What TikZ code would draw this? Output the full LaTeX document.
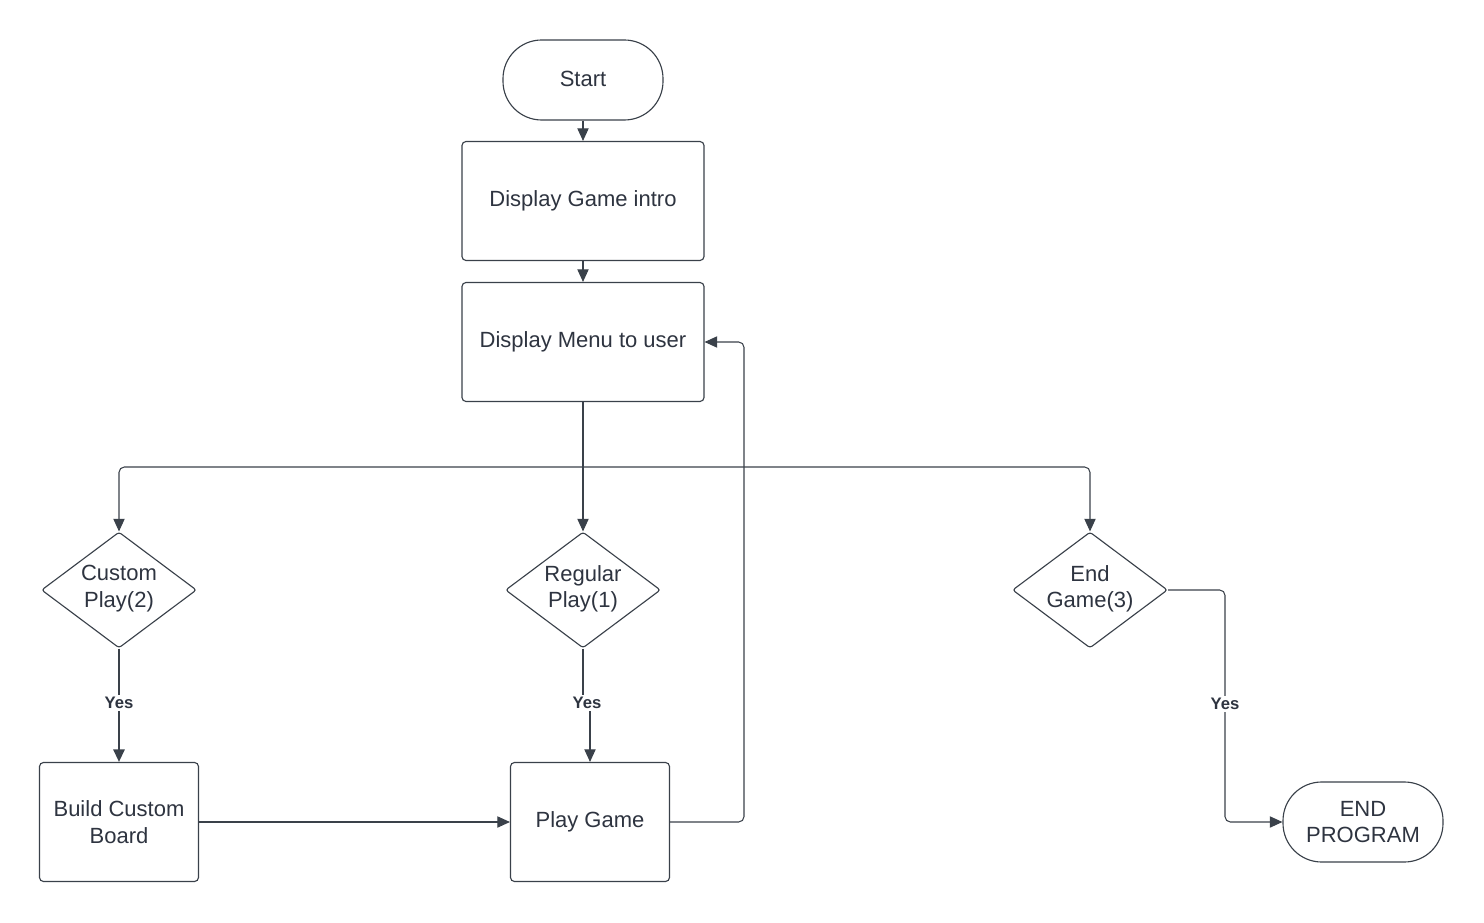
\documentclass[tikz,border=0pt]{standalone}
\usepackage{fontspec}
\setmainfont{Liberation Sans}
\usetikzlibrary{shapes.geometric,arrows.meta}
\definecolor{ink}{HTML}{3A414A}
\definecolor{txt}{HTML}{2E3440}
\begin{document}
\begin{tikzpicture}[x=0.75pt,y=-0.75pt,
  every node/.style={text=txt,font=\fontsize{16.5pt}{20pt}\selectfont,align=center},
  base/.style={draw=ink,line width=0.85pt,fill=white},
  terminal/.style={base,rectangle,rounded corners=29pt,minimum width=120pt,minimum height=60pt,inner sep=0pt},
  procbox/.style={base,rectangle,rounded corners=3pt,minimum width=181.5pt,minimum height=89.25pt},
  smallbox/.style={base,rectangle,rounded corners=3pt,minimum width=119.25pt,minimum height=89.25pt},
  choice/.style={base,diamond,rounded corners=2pt,minimum width=116.25pt,minimum height=87pt,inner sep=0pt},
  choicetext/.style={label={[text=txt,font=\fontsize{16.5pt}{20pt}\selectfont,align=center,yshift=1pt]center:#1}},
  flow/.style={draw=ink,line width=0.8pt,rounded corners=4pt,-{Triangle[length=9.5pt,width=8.5pt]}},
  boldflow/.style={flow,line width=1.6pt},
  yeslabel/.style={fill=white,font=\fontsize{12.5pt}{14pt}\selectfont\bfseries,inner sep=2pt}
]
\useasboundingbox (0,0) rectangle (1484,923);

\node[terminal] (start) at (583,80) {\raisebox{1.5pt}{Start}};
\node[procbox] (intro) at (583,201) {Display Game intro};
\node[procbox] (menu) at (583,342) {Display Menu to user};
\node[choice,choicetext={Custom\\Play(2)}] (custom) at (119,590) {};
\node[choice,choicetext={Regular\\Play(1)}] (regular) at (583,590) {};
\node[choice,choicetext={End\\Game(3)}] (endgame) at (1090,590) {};
\node[smallbox] (build) at (119,822) {Build Custom\\Board};
\node[smallbox] (play) at (590,822) {Play Game};
\node[terminal] (endprog) at (1363,822) {END\\PROGRAM};

\coordinate (split) at (583,467);

% main column
\draw[flow] (start) -- (intro);
\draw[flow] (intro) -- (menu);

% menu branches
\draw[draw=ink,line width=0.8pt] (menu.south) -- (split);
\draw[flow] (split) -| (custom.north);
\draw[flow] (split) -- (regular.north);
\draw[flow] (split) -| (endgame.north);

% yes branches
\draw[boldflow] (custom.south) -- (build.north);
\node[yeslabel] (yescust) at (119,703) {Yes};
\draw[flow,rounded corners=0pt] (regular.south) -- (583,703) -- (590,703) -- (play.north);
\node[yeslabel] (yesreg) at (587,703) {Yes};
\draw[flow] (endgame.east) -- (1225,590) -- (1225,822) -- (endprog.west);
\node[yeslabel] (yesend) at (1225,704) {Yes};

% back to menu
\draw[flow] (build.east) -- (play.west);
\draw[flow] (play.east) -- (744,822) -- (744,342) -- (menu.east);
\end{tikzpicture}
\end{document}
